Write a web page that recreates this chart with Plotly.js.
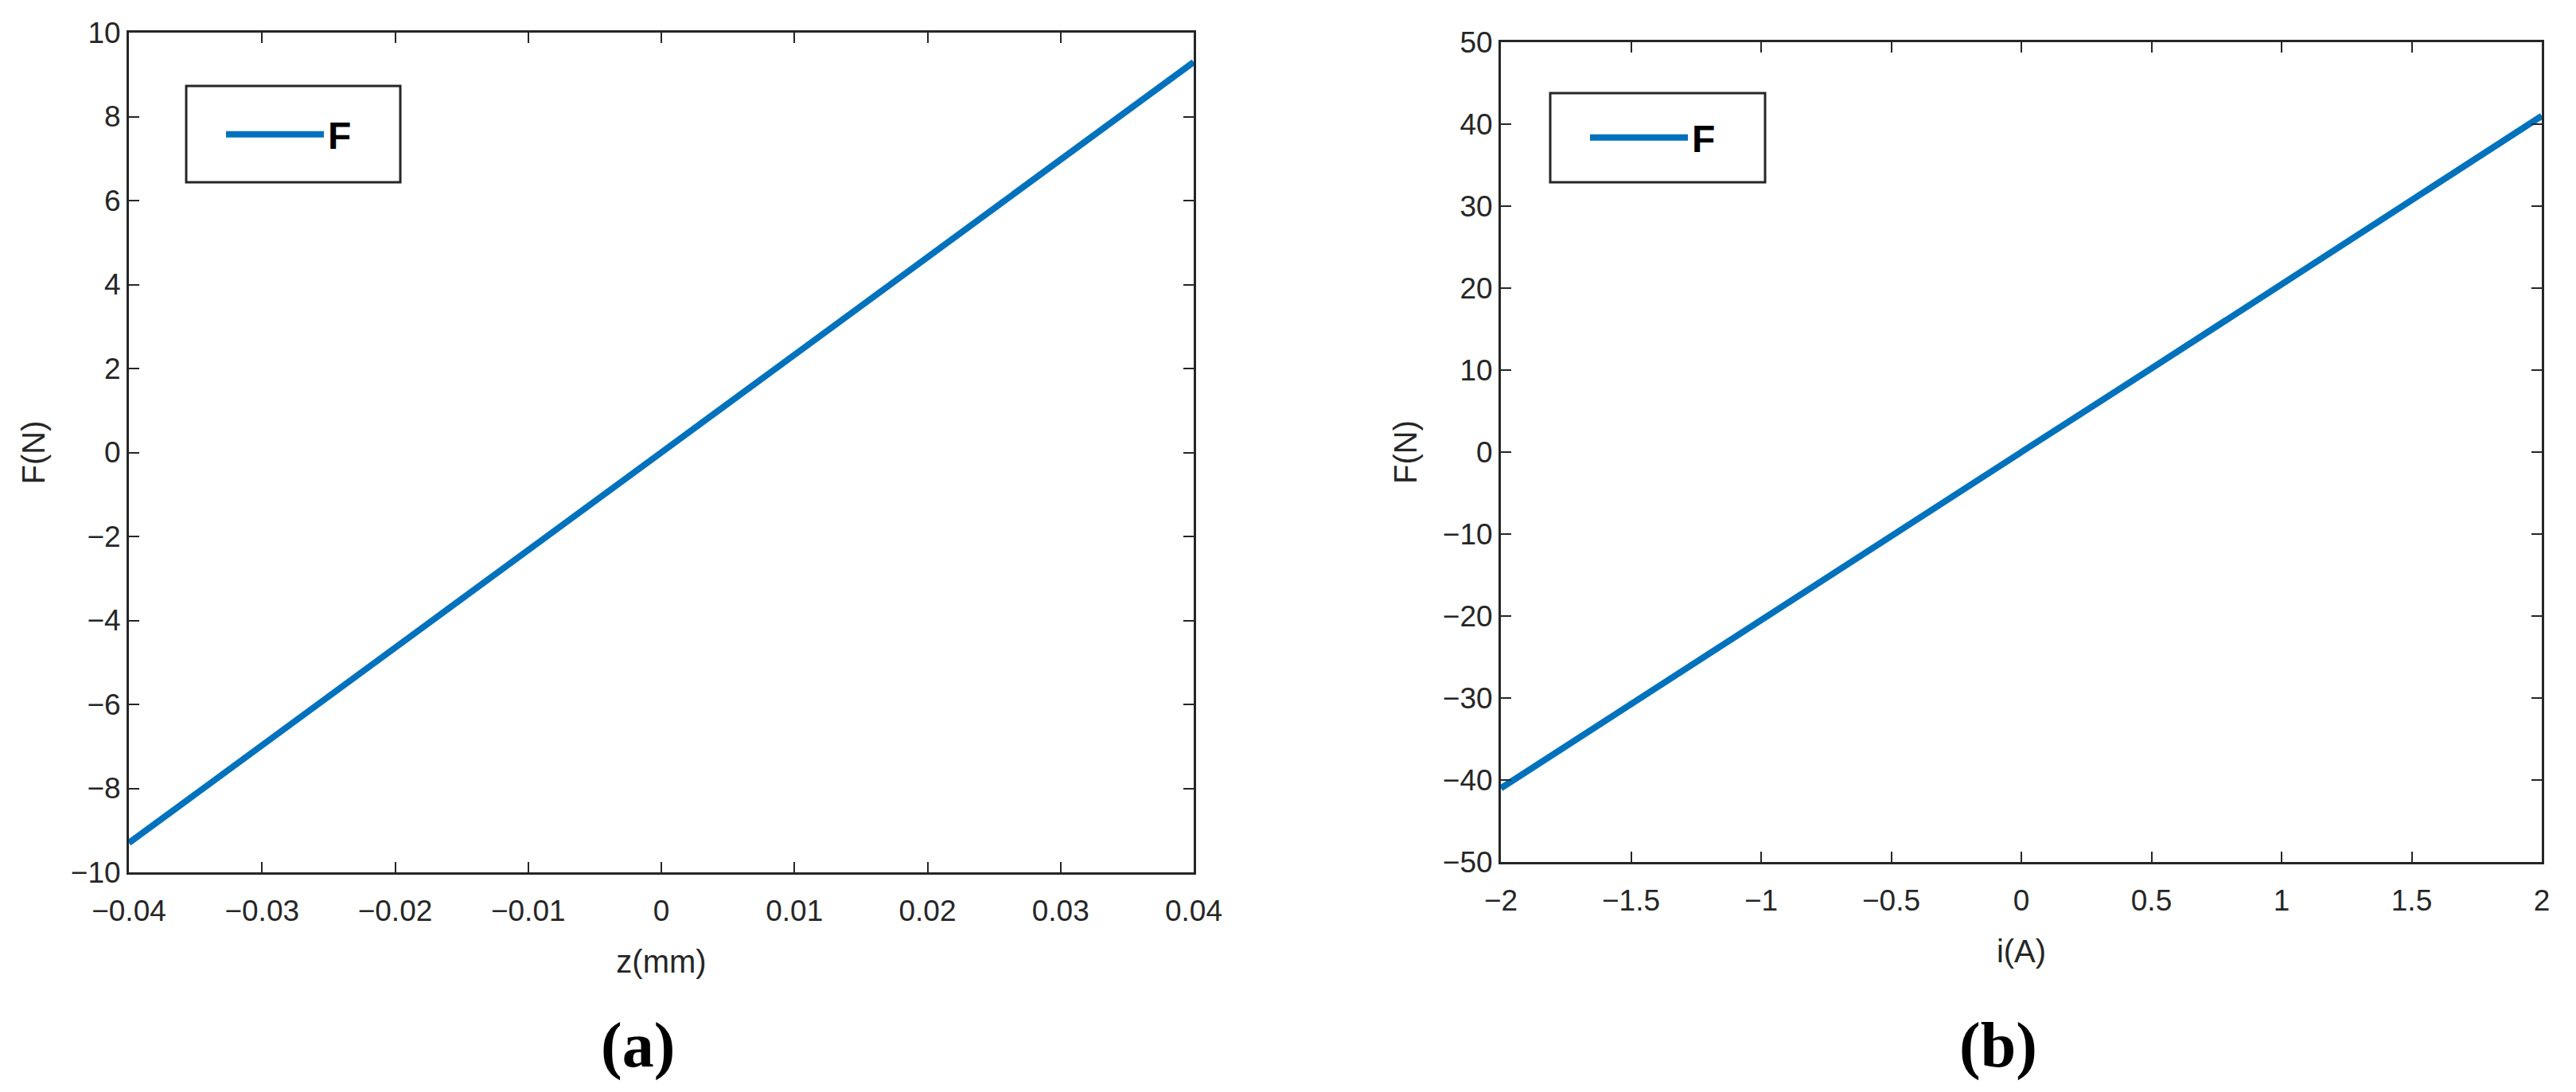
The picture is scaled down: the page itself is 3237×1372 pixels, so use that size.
<!DOCTYPE html>
<html>
<head>
<meta charset="utf-8">
<script src="https://cdn.plot.ly/plotly-3.0.1.min.js"></script>
<style>
  html, body { margin: 0; padding: 0; background: #fff; }
  #plot { width: 3237px; height: 1372px; }
</style>
</head>
<body>
<div id="plot"></div>
<script>
// (a) force vs displacement
const zMM = [-0.04, -0.03, -0.02, -0.01, 0, 0.01, 0.02, 0.03, 0.04];
const forceZ = [-9.3, -6.97, -4.65, -2.32, 0, 2.32, 4.65, 6.97, 9.3];

// (b) force vs current
const currentA = [-2, -1.5, -1, -0.5, 0, 0.5, 1, 1.5, 2];
const forceI = [-41, -30.7, -20.5, -10.2, 0, 10.2, 20.5, 30.7, 41];

const seriesName = 'F';
const panelLabels = ['(a)', '(b)'];

const lineColor = '#0072BD';
const axisColor = '#262626';
const W = 3237, H = 1372;

// pixel -> paper fraction
const fx = px => px / W;
const fy = px => 1 - px / H;

const tickFont = { family: 'Liberation Sans, Arial, sans-serif', size: 37, color: axisColor };
const titleFont = { family: 'Liberation Sans, Arial, sans-serif', size: 40, color: axisColor };

function axisBase(extra) {
    return Object.assign({
        showline: true, mirror: 'ticks', linecolor: axisColor, linewidth: 3,
        ticks: 'inside', ticklen: 13, tickwidth: 2, tickcolor: axisColor,
        showgrid: false, zeroline: false, tickfont: tickFont, fixedrange: true
    }, extra);
}

const traces = [
    {
        x: zMM, y: forceZ, name: seriesName, type: 'scatter', mode: 'lines',
        line: { color: lineColor, width: 8 }, xaxis: 'x', yaxis: 'y', legend: 'legend'
    },
    {
        x: currentA, y: forceI, name: seriesName, type: 'scatter', mode: 'lines',
        line: { color: lineColor, width: 8 }, xaxis: 'x2', yaxis: 'y2', legend: 'legend2'
    }
];

// legend frame is drawn as a layout rect so its size matches the matlab box
const legendStyle = {
    bgcolor: 'rgba(0,0,0,0)', borderwidth: 0,
    font: { family: 'Liberation Sans, Arial, sans-serif', size: 48, color: '#000', weight: 'bold' },
    xanchor: 'left', yanchor: 'middle', itemwidth: 123
};

function legendFrame(x0, x1, y0, y1) {
    return {
        type: 'rect', xref: 'paper', yref: 'paper', layer: 'above',
        x0: fx(x0), x1: fx(x1), y0: fy(y1), y1: fy(y0),
        line: { color: axisColor, width: 3 }, fillcolor: '#fff'
    };
}

const labelFont = { family: 'Liberation Serif, Times New Roman, serif', size: 80, color: '#000', weight: 'bold' };

const layout = {
    width: W, height: H,
    margin: { l: 0, r: 0, t: 0, b: 0 },
    paper_bgcolor: '#fff', plot_bgcolor: '#fff',
    showlegend: true,
    xaxis: axisBase({
        domain: [fx(162), fx(1500)], range: [-0.04, 0.04], dtick: 0.01, tick0: 0,
        anchor: 'y', ticklabelstandoff: 14, title: { text: 'z(mm)', font: titleFont, standoff: 30 }
    }),
    yaxis: axisBase({
        domain: [fy(1096), fy(41)], range: [-10, 10], dtick: 2, tick0: 0,
        anchor: 'x', title: { text: 'F(N)', font: titleFont, standoff: 20 }
    }),
    xaxis2: axisBase({
        domain: [fx(1886), fx(3194)], range: [-2, 2], dtick: 0.5, tick0: 0,
        anchor: 'y2', ticklabelstandoff: 14, title: { text: 'i(A)', font: titleFont, standoff: 30 }
    }),
    yaxis2: axisBase({
        domain: [fy(1083), fy(53)], range: [-50, 50], dtick: 10, tick0: 0,
        anchor: 'x2', title: { text: 'F(N)', font: titleFont, standoff: 20 }
    }),
    legend: Object.assign({ x: fx(279), y: fy(169) }, legendStyle),
    legend2: Object.assign({ x: fx(1993), y: fy(173) }, legendStyle),
    shapes: [
        legendFrame(234, 503, 108, 229),
        legendFrame(1948, 2218, 117, 229)
    ],
    annotations: [
        {
            text: panelLabels[0], xref: 'paper', yref: 'paper', x: fx(801), y: fy(1313),
            showarrow: false, xanchor: 'center', yanchor: 'middle', font: labelFont
        },
        {
            text: panelLabels[1], xref: 'paper', yref: 'paper', x: fx(2511), y: fy(1313),
            showarrow: false, xanchor: 'center', yanchor: 'middle', font: labelFont
        }
    ]
};

Plotly.newPlot('plot', traces, layout, { staticPlot: true, displayModeBar: false });
</script>
</body>
</html>
